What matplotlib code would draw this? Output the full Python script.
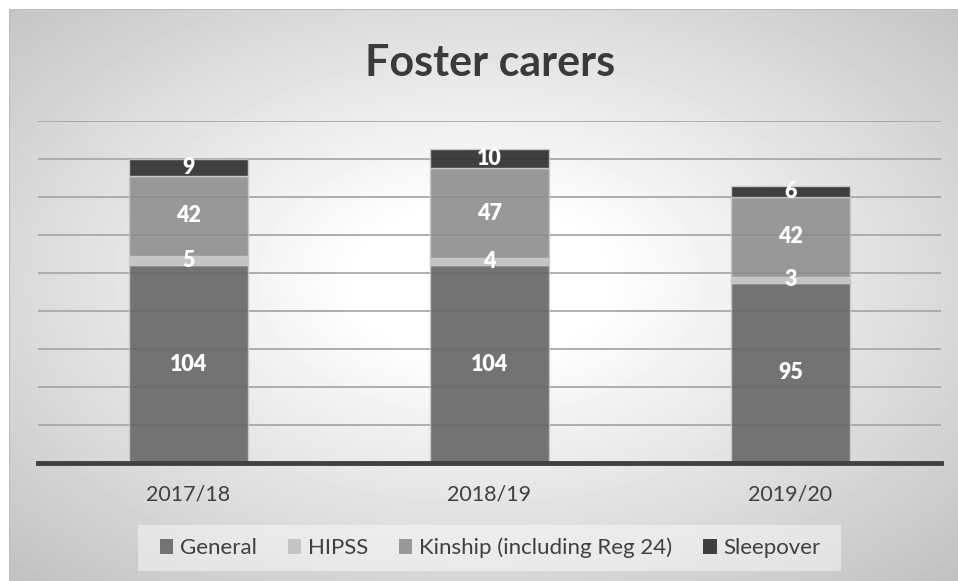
import numpy as np
import matplotlib.pyplot as plt
from matplotlib.patches import Patch, Rectangle

# Data
years = ["2017/18", "2018/19", "2019/20"]
general = [104, 104, 95]
hipss = [5, 4, 3]
kinship = [42, 47, 42]
sleepover = [9, 10, 6]

series_names = ["General", "HIPSS", "Kinship (including Reg 24)", "Sleepover"]
series_values = [general, hipss, kinship, sleepover]
colors = ["#737373", "#c4c4c4", "#989898", "#3f3f3f"]
text_col = "#404040"

plt.rcParams['font.family'] = ['Lato', 'DejaVu Sans']

W, H = 958, 581
fig = plt.figure(figsize=(W / 100, H / 100), dpi=100)

# radial gradient background
bg = fig.add_axes([0, 0, 1, 1], zorder=-10)
yy, xx = np.mgrid[0:H, 0:W]
r = np.sqrt(((xx - 480) / (W / 2)) ** 2 + ((yy - 280) / (H / 2)) ** 2) / np.sqrt(2)
img = 1 - 0.24 * np.clip((r - 0.18) / 0.82, 0, 1)
img[:9, :] = 1.0
img[:, :9] = 1.0
img[9, 9:] = 0.74
img[9:, 9] = 0.74
bg.imshow(img, cmap='gray', vmin=0, vmax=1, extent=[0, W, H, 0], aspect='auto',
          interpolation='bilinear')
bg.set_xlim(0, W)
bg.set_ylim(H, 0)
bg.axis('off')

# main chart
ax = fig.add_axes([38 / W, (H - 463) / H, (941 - 38) / W, 342 / H])
ax.patch.set_alpha(0)
x = np.arange(len(years))
bottom = np.zeros(len(years))
for name, vals, c in zip(series_names, series_values, colors):
    ax.bar(x, vals, width=0.395, bottom=bottom, color=c, edgecolor="#c8c8c8",
           linewidth=1.0, label=name, zorder=2)
    for i, v in enumerate(vals):
        ax.text(x[i], bottom[i] + v / 2, str(v), ha='center', va='center',
                color='white', fontweight='heavy', fontsize=15.5, zorder=4)
    bottom += np.array(vals)

ax.set_xlim(-0.5, 2.5)
ax.set_ylim(0, 180)
ax.set_yticks(range(20, 181, 20))
ax.set_yticklabels([])
ax.yaxis.grid(True, color="#b4b4b4", linewidth=1.3, zorder=1)
ax.hlines(range(20, 181, 20), -0.5, 2.5, color='k', alpha=0.06, linewidth=1.3, zorder=3)
ax.tick_params(axis='y', length=0)
for s in ['top', 'left', 'right']:
    ax.spines[s].set_visible(False)
ax.spines['bottom'].set_color("#404040")
ax.spines['bottom'].set_linewidth(3.5)
ax.spines['bottom'].set_zorder(5)
ax.set_xticks(x)
ax.set_xticklabels(years, fontsize=15.5, color=text_col)
ax.tick_params(axis='x', length=0, pad=15.5)

# title
fig.text(490 / W, 1 - 76 / H, "Foster carers", ha='center', va='baseline',
         fontsize=31, fontweight='bold', color="#3a3a3a")

# legend
fig.patches.append(Rectangle((138 / W, 1 - 571 / H), (841 - 138) / W, 46 / H,
                             transform=fig.transFigure, facecolor='white',
                             alpha=0.45, edgecolor='none', zorder=0))
handles = [Patch(facecolor=c, edgecolor='none') for c in colors]
leg = fig.legend(handles, series_names, loc='center', ncol=4,
                 bbox_to_anchor=(490 / W, 1 - 548 / H), frameon=False,
                 fontsize=16, handlelength=0.6, handleheight=0.6,
                 handletextpad=0.3, columnspacing=1.4)
for t in leg.get_texts():
    t.set_color(text_col)

fig.savefig("out.png", dpi=100)
